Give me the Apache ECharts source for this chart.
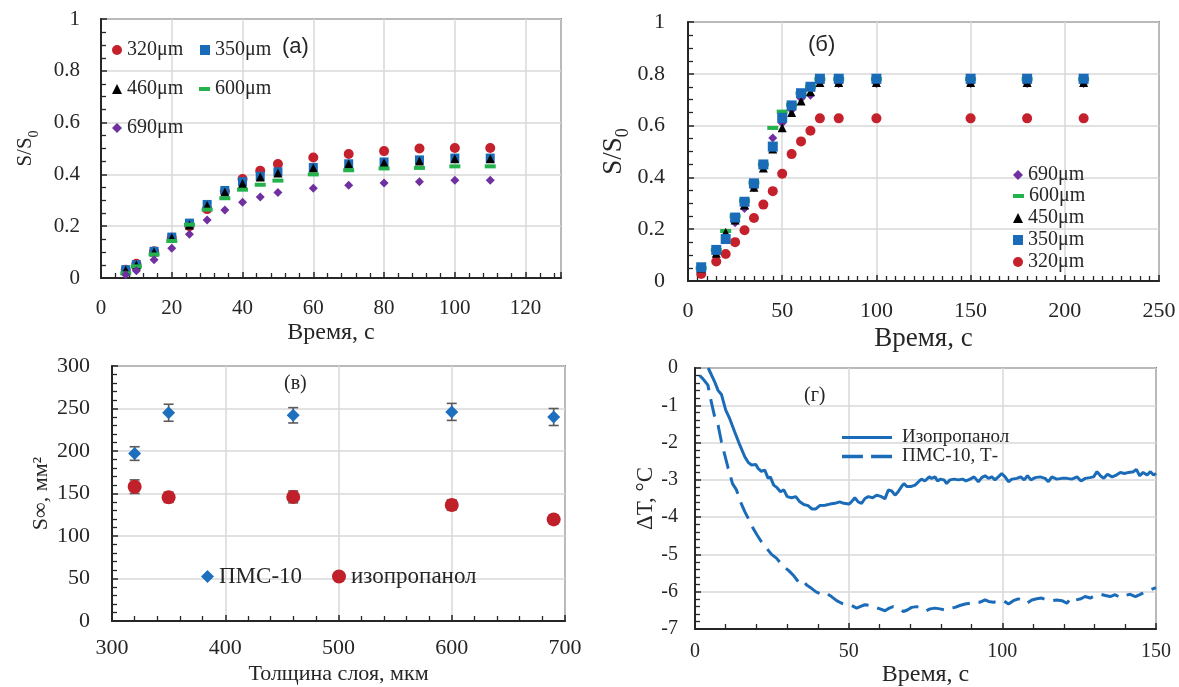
<!DOCTYPE html>
<html><head><meta charset="utf-8">
<script src="https://cdn.jsdelivr.net/npm/echarts@6/dist/echarts.min.js"></script>
<style>html,body{margin:0;padding:0;background:#fff}#c{width:1179px;height:687px}</style>
</head><body><div id="c"></div>
<script>
// ---------- Panel (a) ----------
const timeA = [7,10,15,20,25,30,35,40,45,50,60,70,80,90,100,110];
const a320 = [0.032,0.055,0.103,0.155,0.20,0.266,0.335,0.382,0.414,0.44,0.465,0.479,0.49,0.50,0.502,0.502];
const a350 = [0.032,0.051,0.103,0.158,0.212,0.284,0.338,0.372,0.393,0.41,0.427,0.441,0.448,0.456,0.463,0.463];
const a460 = [0.03,0.05,0.10,0.155,0.205,0.28,0.332,0.365,0.39,0.405,0.425,0.44,0.445,0.452,0.46,0.46];
const a600 = [0.018,0.045,0.091,0.143,0.206,0.264,0.308,0.341,0.36,0.376,0.40,0.416,0.423,0.425,0.431,0.431];
const a690 = [0.013,0.028,0.07,0.115,0.169,0.224,0.263,0.292,0.313,0.33,0.347,0.358,0.367,0.372,0.377,0.377];
// ---------- Panel (б) ----------
const timeB = [7,15,20,25,30,35,40,45,50,55,60,65,70,80,100,150,180,210];
const b690 = [0.05,0.11,0.17,0.225,0.28,0.36,0.44,0.552,0.61,0.66,0.705,0.717,0.765,0.763,0.763,0.763,0.763,0.763];
const b600 = [0.05,0.12,0.193,0.25,0.31,0.38,0.45,0.591,0.654,0.68,0.725,0.75,0.78,0.78,0.78,0.78,0.78,0.78];
const b450 = [0.05,0.107,0.188,0.236,0.293,0.362,0.436,0.51,0.592,0.651,0.695,0.731,0.766,0.766,0.766,0.766,0.766,0.766];
const b350 = [0.053,0.12,0.162,0.245,0.306,0.377,0.45,0.519,0.63,0.678,0.725,0.75,0.781,0.781,0.781,0.781,0.781,0.781];
const b320 = [0.027,0.075,0.104,0.15,0.196,0.243,0.295,0.347,0.414,0.49,0.539,0.58,0.628,0.628,0.628,0.628,0.628,0.628];
// ---------- Panel (в) ----------
const thickness = [320,350,460,600,690];
const pmsS = [197,245,242,246,240];
const pmsErr = [8,10,9,10,10];
const isoS = [158,145.5,146,136.5,119.5];
const isoErr = [8,6,7,6,5];
// ---------- Panel (г) ----------
const tIso = [4.3,6.4,7.5,8.6,10,11.3,12.9,14.6,16.2,17.3,18.4,19.8,20.5,21.6,22.7,23.8,24.5,25.6,26.7,27.8,28.9,30,31.4,32.8,34.1,35.4,36.8,38,39.3,40.6,42.3,43.9,45.5,47.1,48.4,50.1,50.9,52,53.1,54.2,55.3,56.4,57.8,59.1,60.7,61.8,62.9,64,65.1,66.1,67.2,68,68.9,70.2,71.6,73,73.7,74.8,76.2,77,78.1,78.9,79.9,81,81.9,83,84.3,85.7,87.1,88.2,89.5,90.8,92.2,93.3,94.4,95.5,96.6,97.6,98.7,99.8,100.9,102,103.1,104.7,106,107.1,108.2,109.3,110.7,112.3,113.9,115,116.1,117.7,119.4,121,122.6,124.3,125.6,127,128.4,129.7,130.8,131.9,133,134.2,135.7,137.1,138.4,139.7,141.1,142.7,143.6,144.7,145.8,147.1,148.2,149.2,150];
const dIso = [0,-0.37,-0.6,-0.71,-1.13,-1.36,-1.71,-2.07,-2.38,-2.53,-2.6,-2.59,-2.69,-2.77,-2.74,-2.96,-2.92,-3.14,-3.21,-3.32,-3.27,-3.45,-3.48,-3.45,-3.59,-3.66,-3.69,-3.78,-3.78,-3.69,-3.68,-3.65,-3.63,-3.59,-3.63,-3.65,-3.59,-3.48,-3.59,-3.63,-3.5,-3.45,-3.48,-3.41,-3.45,-3.51,-3.27,-3.3,-3.41,-3.32,-3.18,-3.1,-3.18,-3.18,-3.14,-3.03,-2.98,-3.03,-2.92,-2.96,-2.92,-3.03,-2.98,-3.0,-3.1,-3.0,-2.98,-3.0,-2.98,-3.03,-2.98,-2.92,-3.05,-2.94,-2.89,-2.96,-2.92,-3.0,-2.92,-2.83,-2.92,-3.05,-2.98,-2.96,-2.92,-3.0,-2.89,-3.0,-2.94,-2.92,-2.96,-3.05,-2.92,-2.98,-2.96,-2.96,-2.98,-2.92,-3.03,-2.96,-2.94,-2.92,-2.78,-2.89,-2.96,-2.85,-2.92,-2.87,-2.8,-2.83,-2.8,-2.78,-2.72,-2.89,-2.8,-2.87,-2.78,-2.87,-2.83];
const tPms = [1.5,2.6,4.2,5.3,6.4,7.5,8.6,9.7,10.8,12.2,13.5,14.8,16.2,17.6,18.9,20.2,21.6,23.2,24.9,26.5,28.1,29.5,30.6,31.9,33.6,35,36.3,37.9,39.5,41.2,42.8,44.4,46.1,47.7,49.3,50.9,52.6,53.7,55.3,56.9,58.5,60.2,61.8,63.2,64.5,66.1,67.8,69.1,70.5,72.1,73.7,75.2,76.5,78.1,79.7,81.4,83,84.6,86.2,87.9,89.5,91.1,92.8,94.4,95.5,97.1,98.7,100.4,102,103.6,105.2,106.9,108,109.6,111.2,112.8,114.5,116.1,117.7,119.4,121,122.3,124,125.6,126.9,128.6,130.2,131.9,133.5,135.1,136.7,138.4,140,141.6,143.3,144.9,146.5,148.2,150];
const dPms = [-0.2,-0.29,-0.46,-0.91,-1.31,-1.53,-1.98,-2.34,-2.69,-3.1,-3.27,-3.59,-3.85,-4.08,-4.3,-4.48,-4.66,-4.82,-5.0,-5.1,-5.26,-5.37,-5.44,-5.55,-5.73,-5.68,-5.82,-5.91,-6.01,-6.07,-6.04,-6.13,-6.24,-6.31,-6.35,-6.37,-6.44,-6.4,-6.35,-6.37,-6.42,-6.46,-6.51,-6.44,-6.4,-6.44,-6.53,-6.49,-6.42,-6.4,-6.44,-6.51,-6.46,-6.44,-6.46,-6.49,-6.44,-6.42,-6.37,-6.33,-6.31,-6.26,-6.28,-6.22,-6.26,-6.28,-6.26,-6.24,-6.33,-6.24,-6.19,-6.24,-6.31,-6.22,-6.19,-6.17,-6.22,-6.24,-6.22,-6.24,-6.31,-6.16,-6.22,-6.19,-6.13,-6.17,-6.1,-6.07,-6.1,-6.13,-6.08,-6.16,-6.1,-6.07,-6.13,-6.07,-6.0,-5.95,-5.89];

const serif = "'Liberation Serif','DejaVu Serif',serif";
const sans = "'Liberation Sans','DejaVu Sans',sans-serif";
const TXT = '#262626';
const RED = '#c4212c', BLUE = '#1b6cb8', BLACK = '#000000', GREEN = '#23b24c', PURPLE = '#7030a0';

function pairs(xs, ys) { return xs.map((x, i) => [x, ys[i]]); }

function axis(o) {
  return Object.assign({
    type: 'value',
    axisLine: { show: true, onZero: false, lineStyle: { color: '#262626', width: 2 } },
    axisTick: { show: true, inside: true, length: 6, lineStyle: { color: '#262626', width: 1.5 } },
    splitLine: { show: true, lineStyle: { color: '#d9d9d9', width: 1.5 } },
    nameLocation: 'middle'
  }, o);
}
function mt(n) { return { show: true, splitNumber: n, length: 5, lineStyle: { color: '#262626', width: 1.3 } }; }
function lab(size, margin, extra) {
  return Object.assign({ fontFamily: serif, fontSize: size, color: TXT, margin: margin }, extra || {});
}
function nts(size, extra) {
  return Object.assign({ fontFamily: serif, fontSize: size, color: TXT }, extra || {});
}
function leg(name, left, top, w, h, fs, icon) {
  const d = { name: name };
  if (icon) d.icon = icon;
  return { data: [d], left: left, top: top, itemWidth: w, itemHeight: h, padding: 0, itemGap: 0,
    selectedMode: false, textStyle: { fontFamily: serif, fontSize: fs, color: TXT } };
}
const subRich = (fs) => ({
  a: { fontFamily: serif, fontSize: fs, color: TXT, lineHeight: fs + 10, verticalAlign: 'middle' },
  b: { fontFamily: serif, fontSize: Math.round(fs * 0.65), color: TXT, lineHeight: Math.round(fs * 0.65), verticalAlign: 'bottom' }
});

function sc(name, xi, xs, ys, symbol, size, color, z) {
  return { type: 'scatter', name: name, xAxisIndex: xi, yAxisIndex: xi, data: pairs(xs, ys),
    symbol: symbol, symbolSize: size, itemStyle: { color: color, opacity: 1 }, z: z || 2, emphasis: { disabled: true } };
}

function errBars(xs, ys, es) {
  return xs.map((x, i) => [x, ys[i], es[i]]);
}
function renderErr(params, api) {
  const x = api.value(0), y = api.value(1), e = api.value(2);
  const t = api.coord([x, y + e]), b = api.coord([x, y - e]);
  const hw = 5;
  const st = { stroke: '#5a5a5a', lineWidth: 1.6 };
  return { type: 'group', children: [
    { type: 'line', shape: { x1: t[0], y1: t[1], x2: b[0], y2: b[1] }, style: st },
    { type: 'line', shape: { x1: t[0] - hw, y1: t[1], x2: t[0] + hw, y2: t[1] }, style: st },
    { type: 'line', shape: { x1: b[0] - hw, y1: b[1], x2: b[0] + hw, y2: b[1] }, style: st }
  ] };
}

const gridBase = { show: true, borderColor: '#2b2b2b', borderWidth: 1.5, containLabel: false, outerBoundsMode: 'none' };

const solidIcon = 'path://M0,0H50V3H0Z';
const dashIcon = 'path://M0,0H18V3H0ZM25,0H43V3H25Z';

const option = {
  animation: false,
  backgroundColor: '#ffffff',
  grid: [
    Object.assign({ left: 101, top: 19, width: 460, height: 259 }, gridBase),
    Object.assign({ left: 688, top: 22, width: 471, height: 259 }, gridBase),
    Object.assign({ left: 112, top: 366, width: 453, height: 255 }, gridBase),
    Object.assign({ left: 695, top: 368, width: 461, height: 261 }, gridBase)
  ],
  xAxis: [
    axis({ gridIndex: 0, min: 0, max: 130, interval: 20, minorTick: mt(5),
      axisLabel: lab(21, 20, { showMaxLabel: false }), name: 'Время, с', nameGap: 43, nameTextStyle: nts(24) }),
    axis({ gridIndex: 1, min: 0, max: 250, interval: 50, minorTick: mt(10),
      axisLabel: lab(22, 19), name: 'Время, с', nameGap: 44, nameTextStyle: nts(27) }),
    axis({ gridIndex: 2, min: 300, max: 700, interval: 100, minorTick: mt(5),
      axisLabel: lab(22, 16), name: 'Толщина слоя, мкм', nameGap: 42, nameTextStyle: nts(22) }),
    axis({ gridIndex: 3, min: 0, max: 150, interval: 50, minorTick: mt(5),
      axisLabel: lab(20, 13), name: 'Время, с', nameGap: 26, nameTextStyle: nts(24) })
  ],
  yAxis: [
    axis({ gridIndex: 0, min: 0, max: 1, interval: 0.2, minorTick: mt(4),
      axisLabel: lab(21, 21), name: '{a|S/S}{b|0}', nameGap: 60, nameTextStyle: { rich: subRich(21) } }),
    axis({ gridIndex: 1, min: 0, max: 1, interval: 0.2, minorTick: mt(4),
      axisLabel: lab(22, 23), name: '{a|S/S}{b|0}', nameGap: 56, nameTextStyle: { rich: subRich(27) } }),
    axis({ gridIndex: 2, min: 0, max: 300, interval: 50, minorTick: mt(5),
      axisLabel: lab(22, 22), name: 'S∞, мм²', nameGap: 60, nameTextStyle: nts(22) }),
    axis({ gridIndex: 3, min: -7, max: 0, interval: 1, minorTick: mt(5),
      axisLabel: lab(20, 17), name: 'ΔT, °C', nameGap: 36, nameTextStyle: nts(23) })
  ],
  legend: [
    leg('320μm', 112, 40, 10, 10, 20, 'circle'),
    leg('350μm', 200, 40, 10, 10, 20, 'rect'),
    leg('460μm', 112, 79, 10, 10, 20, 'triangle'),
    leg('600μm', 199, 79, 11, 4, 20, 'rect'),
    leg('690μm', 112, 118, 10, 10, 20, 'diamond'),

    leg('690μm', 1013, 165, 10, 10, 20, 'diamond'),
    leg('600μm', 1013, 186, 11, 4, 20, 'rect'),
    leg('450μm', 1013, 208, 10, 10, 20, 'triangle'),
    leg('350μm', 1013, 230, 10, 10, 20, 'rect'),
    leg('320μm', 1013, 252, 10, 10, 20, 'circle'),

    leg('ПМС-10', 201, 565, 13, 13, 23, 'diamond'),
    leg('изопропанол', 332, 565, 14, 14, 23, 'circle'),

    Object.assign(leg('Изопропанол', 842, 428, 50, 14, 19, solidIcon), { textStyle: { fontFamily: serif, fontSize: 19, color: TXT, padding: [8, 0, 0, 5] } }),
    Object.assign(leg('ПМС-10, Т-', 842, 447, 50, 14, 19, dashIcon), { textStyle: { fontFamily: serif, fontSize: 19, color: TXT, padding: [8, 0, 0, 5] } })
  ],
  graphic: [
    { type: 'text', left: 282, top: 36, style: { text: '(a)', font: "22px " + sans, fill: TXT } },
    { type: 'text', left: 808, top: 34, style: { text: '(б)', font: "22px " + sans, fill: TXT } },
    { type: 'text', left: 284, top: 374, style: { text: '(в)', font: "20px " + serif, fill: TXT } },
    { type: 'text', left: 804, top: 386, style: { text: '(г)', font: "20px " + serif, fill: TXT } }
  ],
  series: [
    sc('320μm', 0, timeA, a320, 'circle', 10, RED, 2),
    sc('350μm', 0, timeA, a350, 'rect', 9, BLUE, 3),
    sc('460μm', 0, timeA, a460, 'triangle', 9, BLACK, 4),
    sc('600μm', 0, timeA, a600, 'rect', [11, 4], GREEN, 5),
    sc('690μm', 0, timeA, a690, 'diamond', 9, PURPLE, 6),

    sc('320μm', 1, timeB, b320, 'circle', 10, RED, 2),
    sc('690μm', 1, timeB, b690, 'diamond', 9, PURPLE, 3),
    sc('600μm', 1, timeB, b600, 'rect', [11, 4], GREEN, 4),
    sc('450μm', 1, timeB, b450, 'triangle', 9, BLACK, 5),
    sc('350μm', 1, timeB, b350, 'rect', 10, BLUE, 6),

    { type: 'custom', name: 'errPms', xAxisIndex: 2, yAxisIndex: 2, data: errBars(thickness, pmsS, pmsErr), renderItem: renderErr, z: 1, encode: { x: 0, y: 1 } },
    { type: 'custom', name: 'errIso', xAxisIndex: 2, yAxisIndex: 2, data: errBars(thickness, isoS, isoErr), renderItem: renderErr, z: 1, encode: { x: 0, y: 1 } },
    sc('ПМС-10', 2, thickness, pmsS, 'diamond', 13, '#1f6fbf', 3),
    sc('изопропанол', 2, thickness, isoS, 'circle', 14, '#c0202a', 3),

    { type: 'line', name: 'Изопропанол', xAxisIndex: 3, yAxisIndex: 3, data: pairs(tIso, dIso), symbol: 'none',
      lineStyle: { color: BLUE, width: 3 }, itemStyle: { color: BLUE }, clip: true, emphasis: { disabled: true } },
    { type: 'line', name: 'ПМС-10, Т-', xAxisIndex: 3, yAxisIndex: 3, data: pairs(tPms, dPms), symbol: 'none',
      lineStyle: { color: BLUE, width: 3, type: [18, 9] }, itemStyle: { color: BLUE }, clip: true, emphasis: { disabled: true } }
  ]
};
const chart = echarts.init(document.getElementById('c'), null, { renderer: 'canvas' });
chart.setOption(option);
</script>
</body></html>
